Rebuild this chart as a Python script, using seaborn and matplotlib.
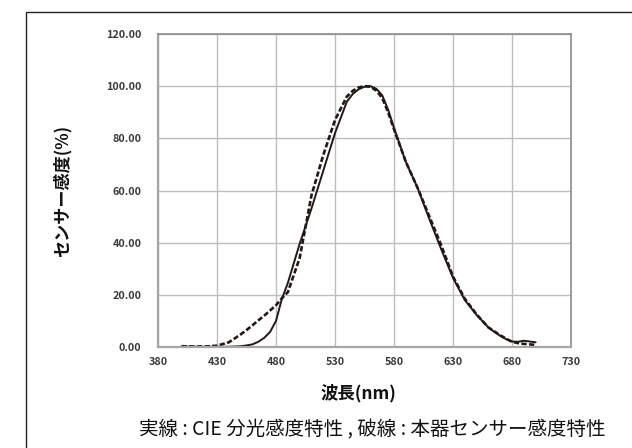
import pandas as pd
import numpy as np
import matplotlib
matplotlib.use("Agg")
import matplotlib.pyplot as plt
import matplotlib.patches as mpatches
import seaborn as sns

# 波長 (nm)
wavelength = [400, 410, 420, 430, 440, 450, 455, 460, 465, 470, 475, 480, 485, 490, 500,
              510, 520, 530, 540, 545, 550, 555, 560, 565, 570, 575, 580, 590, 600,
              610, 620, 630, 640, 650, 660, 665, 670, 675, 680, 685, 690, 700]

# 実線: CIE 分光感度特性 (%)
cie = [0.2, 0.1, 0.1, 0.1, 0.1, 0.3, 0.6, 1.0, 2.0, 3.5, 5.8, 10.0, 18.5, 24.5, 39.5,
       53.0, 67.5, 82.0, 94.0, 97.0, 98.8, 99.8, 100.0, 99.0, 96.5, 91.0, 84.0, 71.0, 61.0,
       49.0, 37.5, 26.5, 18.0, 12.3, 7.5, 5.8, 4.3, 3.0, 2.1, 2.0, 2.4, 1.8]

# 破線: 本器センサー感度特性 (%)
sensor = [0.3, 0.2, 0.2, 0.5, 1.8, 4.8, 6.5, 8.3, 10.2, 12.0, 14.0, 16.0, 18.7, 21.0, 34.0,
          58.0, 73.5, 87.0, 96.0, 98.2, 99.5, 100.0, 99.8, 98.3, 95.5, 90.0, 83.5, 71.0, 61.0,
          50.0, 39.0, 27.0, 18.5, 12.5, 7.5, 6.0, 4.5, 3.2, 2.0, 1.5, 1.2, 0.8]

xticks = [380, 430, 480, 530, 580, 630, 680, 730]
yticks = [0, 20, 40, 60, 80, 100, 120]

df = pd.DataFrame({"波長": wavelength, "CIE": cie, "センサー": sensor})

sns.set_style("white")
plt.rcParams["font.family"] = ["Noto Sans CJK JP", "DejaVu Sans"]

fig = plt.figure(figsize=(6.32, 4.48), dpi=100)
W, H = 632, 448
ax = fig.add_axes([158 / W, 1 - 347 / H, (571 - 158) / W, (347 - 34) / H])

ink = "#231815"
sns.lineplot(data=df, x="波長", y="CIE", ax=ax, color=ink, linewidth=1.4)
sns.lineplot(data=df, x="波長", y="センサー", ax=ax, color=ink, linewidth=1.9,
             linestyle=(0, (2.0, 0.9)))

ax.set_xlim(380, 730)
ax.set_ylim(0, 120)
ax.set_xticks(xticks)
ax.set_yticks(yticks)
ax.set_yticklabels([f"{v:.2f}" for v in yticks])
ax.tick_params(axis="both", length=0, labelsize=7.8, labelcolor="#3a3a3a")
ax.tick_params(axis="y", pad=12)
ax.tick_params(axis="x", pad=7)
for lab in ax.get_xticklabels() + ax.get_yticklabels():
    lab.set_fontweight("bold")

ax.grid(True, color="#bdbdbd", linewidth=1.0)
ax.set_axisbelow(True)
for side in ["left", "bottom"]:
    ax.spines[side].set_color("#a6a6a6")
    ax.spines[side].set_linewidth(1.6)
for side in ["top", "right"]:
    ax.spines[side].set_color("#8c8c8c")
    ax.spines[side].set_linewidth(1.2)

ax.set_xlabel("")
ax.set_ylabel("")
fig.text(62 / W, 1 - 191 / H, "センサー感度(%)", rotation=90, ha="center", va="center",
         fontsize=12.3, fontweight="bold", color="#111111")
fig.text(358 / W, 1 - 393 / H, "波長(nm)", ha="center", va="center",
         fontsize=12.5, fontweight="bold", color="#111111")
fig.text(372 / W, 1 - 430 / H, "実線 : CIE 分光感度特性 , 破線 : 本器センサー感度特性",
         ha="center", va="center", fontsize=14, color="#111111")

# 外枠
fig.patches.append(mpatches.Rectangle((26 / W, -0.1), 1.2, 1 - 12 / H + 0.1,
                                      transform=fig.transFigure, fill=False,
                                      edgecolor="#222222", linewidth=1.0))

fig.savefig("out.png", dpi=100)
